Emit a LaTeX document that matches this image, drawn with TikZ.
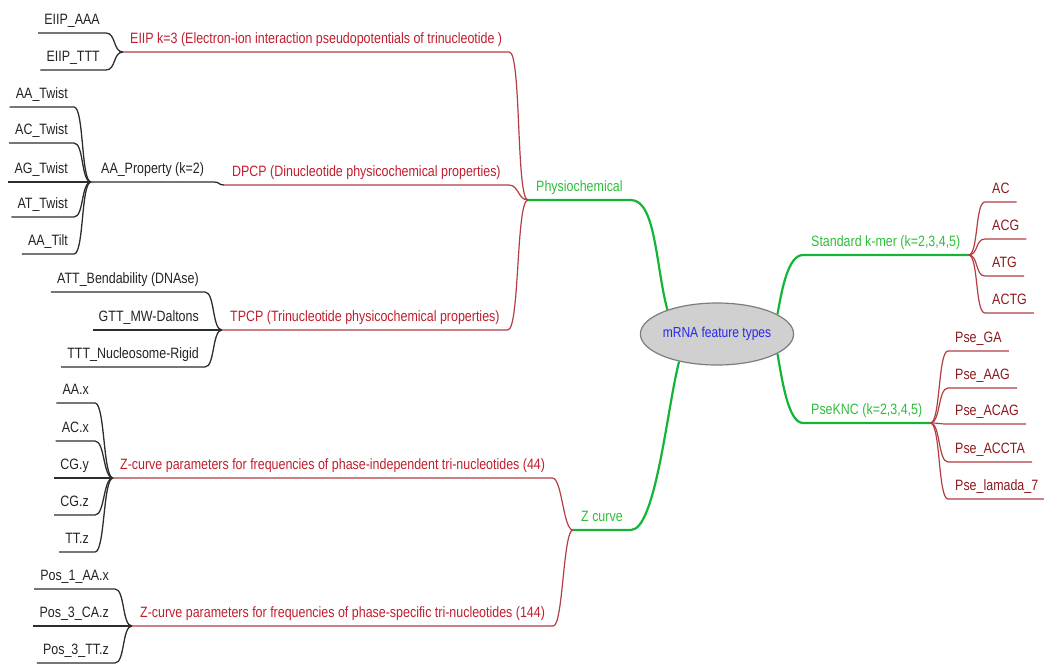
\documentclass[tikz,border=0pt]{standalone}
\usepackage{fontspec}
\setmainfont{Liberation Sans}[FakeStretch=0.83]
\usetikzlibrary{shapes.geometric}
\definecolor{leafblack}{RGB}{35,35,35}
\definecolor{lineblack}{RGB}{45,45,45}
\definecolor{topicred}{RGB}{192,30,45}
\definecolor{linered}{RGB}{178,62,66}
\definecolor{leafred}{RGB}{140,25,30}
\definecolor{topicgreen}{RGB}{45,190,60}
\definecolor{linegreen}{RGB}{20,180,55}
\definecolor{hubblue}{RGB}{40,40,235}
\tikzset{
    box/.style={inner ysep=5pt, text height=11pt, text depth=3pt, font=\fontsize{15}{17}\selectfont},
    leafL/.style={box, inner xsep=6pt, anchor=south east, text=leafblack},
    leafR/.style={box, inner xsep=7pt, anchor=south west, text=leafred},
    topic/.style={box, inner xsep=8pt, anchor=south west, text=topicred},
    branch/.style={box, inner xsep=8pt, anchor=south west, text=topicgreen},
    hub/.style={ellipse, draw={rgb,255:red,125;green,125;blue,125}, fill={rgb,255:red,208;green,208;blue,208},
        line width=1.2pt, minimum width=135pt, minimum height=62pt, inner sep=0pt,
        text=hubblue, font=\fontsize{14.5}{17}\selectfont},
    swing/.style={out=0, in=180, distance=#1},
    swing/.default=10pt,
    blk/.style={draw=lineblack, line width=1.3pt},
    redline/.style={draw=linered, line width=1.2pt},
    grn/.style={draw=linegreen, line width=2.2pt}
}
% leaf on the left: name, junction, x, y, text
\newcommand{\leftLeaf}[5] {
	\node[leafL] (#1) at (#3,-#4) {#5};
	\draw[blk] (#1.south west) -- (#1.south east) to[swing] (#2);
}
% leaf on the right: name, junction, x, y, text
\newcommand{\rightLeaf}[5] {
	\node[leafR] (#1) at (#3,-#4) {#5};
	\draw[redline] (#2) to[swing] (#1.south west) -- (#1.south east);
}
\begin{document}
\begin{tikzpicture}[x=1pt, y=1pt]
		\useasboundingbox (0,0) rectangle (1044,-665);

		% centre
		\node[hub] (C) at (717,-334) {mRNA feature types};

		% Physiochemical
		\node[branch] (Phys) at (528,-200) {Physiochemical};
		\draw[grn] (Phys.south west) -- (Phys.south east) to[out=0, in=105, out distance=25pt, in distance=45pt] (C.154);

		\node[topic, inner xsep=7pt] (E) at (123,-52) {EIIP k=3 (Electron-ion interaction pseudopotentials of trinucleotide )};
		\draw[redline] (E.south west) -- (E.south east) to[swing=12pt] (Phys.south west);
		\leftLeaf{eAAA}{E.south west}{106}{33}{EIIP\_AAA}
		\leftLeaf{eTTT}{E.south west}{106}{70}{EIIP\_TTT}

		\node[topic] (D) at (224,-185) {DPCP (Dinucleotide physicochemical properties)};
		\draw[redline] (D.south west) -- (D.south east) to[swing] (Phys.south west);
		\node[topic, text=leafblack, inner xsep=10pt] (AAP) at (91,-182) {AA\_Property (k=2)};
		\draw[blk] (AAP.south west) -- (AAP.south east) to[swing=6pt] (D.south west);
		\leftLeaf{aaT}{AAP.south west}{74}{107}{AA\_Twist}
		\leftLeaf{acT}{AAP.south west}{74}{143}{AC\_Twist}
		\leftLeaf{agT}{AAP.south west}{74}{182}{AG\_Twist}
		\leftLeaf{atT}{AAP.south west}{74}{217}{AT\_Twist}
		\leftLeaf{aaTi}{AAP.south west}{74}{254}{AA\_Tilt}

		\node[topic] (T) at (222,-330) {TPCP (Trinucleotide physicochemical properties)};
		\draw[redline] (T.south west) -- (T.south east) to[swing=12pt] (Phys.south west);
		\leftLeaf{att}{T.south west}{205}{292}{ATT\_Bendability (DNAse)}
		\leftLeaf{gtt}{T.south west}{205}{330}{GTT\_MW-Daltons}
		\leftLeaf{ttt}{T.south west}{205}{367}{TTT\_Nucleosome-Rigid}

		% Z curve
		\node[branch] (Zc) at (573,-530) {Z curve};
		\draw[grn] (Zc.south west) -- (Zc.south east) to[out=0, in=-105, out distance=25pt, in distance=45pt] (C.216);

		\node[topic, inner xsep=7pt] (ZI) at (113,-478) {Z-curve parameters for frequencies of phase-independent tri-nucleotides (44)};
		\draw[redline] (ZI.south west) -- (ZI.south east) to[swing] (Zc.south west);
		\leftLeaf{aax}{ZI.south west}{95}{403}{AA.x}
		\leftLeaf{acx}{ZI.south west}{95}{441}{AC.x}
		\leftLeaf{cgy}{ZI.south west}{95}{478}{CG.y}
		\leftLeaf{cgz}{ZI.south west}{95}{515}{CG.z}
		\leftLeaf{ttz}{ZI.south west}{95}{552}{TT.z}

		\node[topic] (ZS) at (132,-626) {Z-curve parameters for frequencies of phase-specific tri-nucleotides (144)};
		\draw[redline] (ZS.south west) -- (ZS.south east) to[swing] (Zc.south west);
		\leftLeaf{p1}{ZS.south west}{115}{589}{Pos\_1\_AA.x}
		\leftLeaf{p2}{ZS.south west}{115}{626}{Pos\_3\_CA.z}
		\leftLeaf{p3}{ZS.south west}{115}{663}{Pos\_3\_TT.z}

		% Standard k-mer
		\node[branch] (SK) at (803,-255) {Standard k-mer (k=2,3,4,5)};
		\draw[grn] (C.18) to[out=80, in=180, out distance=25pt, in distance=15pt] (SK.south west) -- (SK.south east);
		\rightLeaf{ac}{SK.south east}{985}{202}{AC}
		\rightLeaf{acg}{SK.south east}{985}{239}{ACG}
		\rightLeaf{atg}{SK.south east}{985}{276}{ATG}
		\rightLeaf{actg}{SK.south east}{985}{313}{ACTG}

		% PseKNC
		\node[branch] (PK) at (803,-423) {PseKNC (k=2,3,4,5)};
		\draw[grn] (C.-18) to[out=-80, in=180, out distance=25pt, in distance=15pt] (PK.south west) -- (PK.south east);
		\rightLeaf{pga}{PK.south east}{948}{351}{Pse\_GA}
		\rightLeaf{paag}{PK.south east}{948}{388}{Pse\_AAG}
		\rightLeaf{pacag}{PK.south east}{948}{424}{Pse\_ACAG}
		\rightLeaf{paccta}{PK.south east}{948}{462}{Pse\_ACCTA}
		\rightLeaf{plam}{PK.south east}{948}{499}{Pse\_lamada\_7}

	\end{tikzpicture}
\end{document}
